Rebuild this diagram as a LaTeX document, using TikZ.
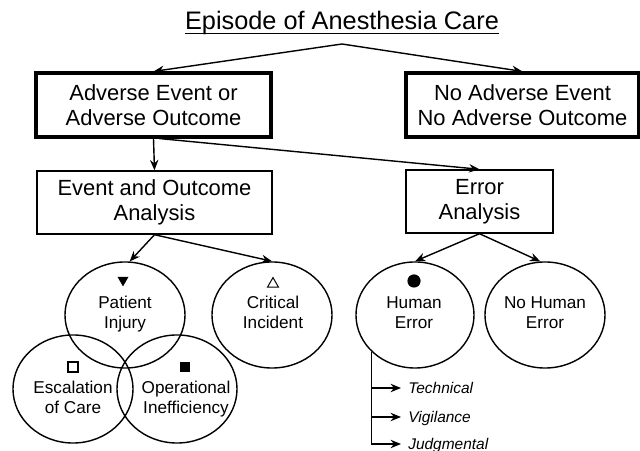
\documentclass[tikz,border=0pt]{standalone}
\usepackage{fontspec}
\setmainfont{Liberation Sans}
\usetikzlibrary{shapes.geometric,arrows.meta,positioning}

\tikzset{
  bigbox/.style={draw, line width=2.2pt, minimum width=5.875cm, minimum height=1.6cm, align=center, font=\fontsize{15.6}{18.1}\selectfont},
  smallbox/.style={draw, line width=1pt, minimum height=1.575cm, align=center, font=\fontsize{15.6}{18.1}\selectfont},
  oval/.style={draw, ellipse, line width=1pt, minimum width=3cm, minimum height=2.65cm},
  ovaltext/.style={align=center, font=\fontsize{12.2}{14.2}\selectfont},
  kind/.style={anchor=west, inner sep=5pt, font=\fontsize{11}{13}\selectfont\itshape, text height=0.9em, text depth=0.18em},
  link/.style={line width=1pt, -{Stealth[length=0.26cm, width=0.21cm]}},
}

\begin{document}
\begin{tikzpicture}[x=0.025cm, y=-0.025cm]
\useasboundingbox (0,0) rectangle (640,451);
% title
\node[anchor=base, inner sep=0pt, font=\fontsize{18}{21}\selectfont] (title) at (342,30) {Episode of Anesthesia Care};
\draw[line width=1.1pt] ([yshift=-2.4pt]title.base west) -- ([yshift=-2.4pt]title.base east);
\coordinate (apex) at (342,44);
% boxes
\node[bigbox] (adverse) at (153.5,105) {Adverse Event or\\Adverse Outcome};
\node[bigbox, minimum width=5.825cm] (noadverse) at (522.5,105) {No Adverse Event\\No Adverse Outcome};
\node[smallbox, minimum width=5.875cm] (outcome) at (154.5,202.5) {Event and Outcome\\Analysis};
\node[smallbox, minimum width=3.675cm] (error) at (479.5,201.5) {Error\\Analysis};
% circles
\node[oval] (injury) at (125,315) {};
\node[oval] (critical) at (272,315) {};
\node[oval, minimum height=2.7cm] (escalation) at (73,389) {};
\node[oval, minimum height=2.7cm] (inefficiency) at (177,389) {};
\node[oval, minimum width=2.95cm] (human) at (415,315) {};
\node[oval] (nohuman) at (545,315) {};
% labels
\node[ovaltext] (injurytxt) at (125,314) {Patient\\Injury};
\node[ovaltext] (criticaltxt) at (273,312.5) {Critical\\Incident};
\node[ovaltext] (escalationtxt) at (73,397.5) {Escalation\\of Care};
\node[ovaltext] (inefficiencytxt) at (186,399.5) {Operational\\Inefficiency};
\node[ovaltext] (humantxt) at (414,312.5) {Human\\Error};
\node[ovaltext] (nohumantxt) at (545,312.5) {No Human\\Error};
% marks
\node[regular polygon, regular polygon sides=3, shape border rotate=180, fill, inner sep=0pt, minimum size=0.32cm] (injurymark) at (123,280) {};
\node[regular polygon, regular polygon sides=3, draw, line width=0.7pt, inner sep=0pt, minimum size=0.32cm] (criticalmark) at (273,284) {};
\node[rectangle, draw, line width=1pt, inner sep=0pt, minimum size=0.25cm] (escalationmark) at (73,367) {};
\node[rectangle, fill, inner sep=0pt, minimum size=0.27cm] (inefficiencymark) at (185,367) {};
\node[circle, fill, inner sep=0pt, minimum size=0.33cm] (humanmark) at (414,281) {};
% kinds of error
\node[kind] (technical) at (401,388) {Technical};
\node[kind] (vigilance) at (401,417) {Vigilance};
\node[kind] (judgmental) at (401,444) {Judgmental};
\coordinate (stem) at (human.-140);
% arrows
\draw[link] (apex) -- (adverse.north);
\draw[link] (apex) -- (noadverse.north);
\draw[link] (adverse.south) -- (outcome.north);
\draw[link] ([xshift=0.15cm]adverse.south) -- (error.north);
\draw[link] (outcome.south) -- (injury.85);
\draw[link] (outcome.south) -- (critical.north);
\draw[link] (error.south) -- (human.north);
\draw[link] (error.south) -- (nohuman.95);
\draw[link] (stem) |- (technical.west);
\draw[link] (stem) |- (vigilance.west);
\draw[link] (stem) |- (judgmental.west);
\end{tikzpicture}
\end{document}
